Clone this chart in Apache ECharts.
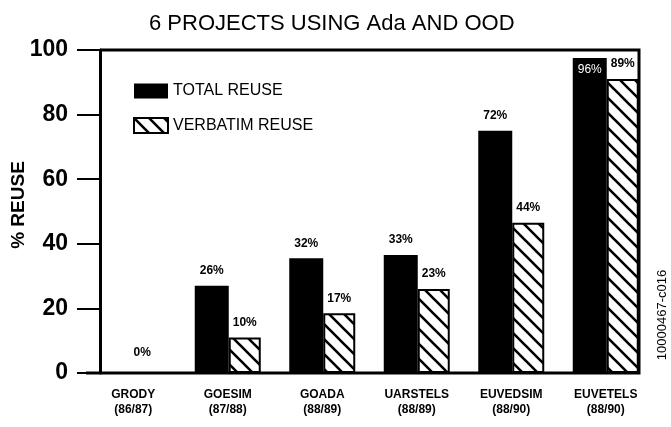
<!DOCTYPE html>
<html>
<head>
<meta charset="utf-8">
<script src="https://cdn.jsdelivr.net/npm/echarts@6/dist/echarts.min.js"></script>
<style>
  html, body { margin: 0; padding: 0; background: #fff; }
  #chart { width: 671px; height: 427px; }
</style>
</head>
<body>
<div id="chart"></div>
<script>
// projects (x axis)
var projects = ['GRODY\n(86/87)', 'GOESIM\n(87/88)', 'GOADA\n(88/89)', 'UARSTELS\n(88/89)', 'EUVEDSIM\n(88/90)', 'EUVETELS\n(88/90)'];
// bar heights as drawn in the picture
var totalReuse = [0, 27, 35.5, 36.5, 75, 97.5];
var verbatimReuse = [0, 11, 18.5, 26, 46.5, 91];
// printed labels
var totalLabels = ['0%', '26%', '32%', '33%', '72%', '96%'];
var verbatimLabels = ['', '10%', '17%', '23%', '44%', '89%'];
var yTicks = [0, 20, 40, 60, 80, 100];

var FONT = '"Liberation Sans", Arial, sans-serif';

// hatch pattern for verbatim bars
function makeHatch() {
    var s = 15;
    var c = document.createElement('canvas');
    c.width = s; c.height = s;
    var ctx = c.getContext('2d');
    ctx.fillStyle = '#fff';
    ctx.fillRect(0, 0, s, s);
    ctx.strokeStyle = '#000';
    ctx.lineWidth = 2.6;
    ctx.beginPath();
    ctx.moveTo(-2, -2); ctx.lineTo(s + 2, s + 2);
    ctx.moveTo(-2, s - 2); ctx.lineTo(2, s + 2);
    ctx.moveTo(s - 2, -2); ctx.lineTo(s + 2, 2);
    ctx.stroke();
    return c;
}
var hatch = makeHatch();

var chart = echarts.init(document.getElementById('chart'));

var totalData = totalReuse.map(function (v, i) {
    var d = { value: v };
    if (v === 0) d.label = { offset: [25, -5] };
    if (i === totalReuse.length - 1) d.label = { position: 'insideTop', color: '#fff', fontWeight: 'normal', offset: [0, -3] };
    return d;
});

var option = {
    animation: false,
    backgroundColor: '#fff',
    textStyle: { fontFamily: FONT, color: '#000' },
    title: {
        text: '6 PROJECTS USING Ada AND OOD',
        left: 144,
        top: 8,
        textStyle: { fontSize: 22, fontWeight: 'normal', color: '#000', fontFamily: FONT }
    },
    legend: {
        orient: 'vertical',
        left: 128,
        top: 78,
        itemWidth: 34,
        itemHeight: 15,
        itemGap: 18,
        textStyle: { fontSize: 16, color: '#000', fontFamily: FONT },
        data: [
            { name: 'TOTAL REUSE', icon: 'rect', itemStyle: { color: '#000', borderWidth: 0 } },
            { name: 'VERBATIM REUSE', icon: 'rect', itemStyle: { color: { image: hatch, repeat: 'repeat' }, borderColor: '#000', borderWidth: 2 } }
        ]
    },
    grid: { left: 86, right: 18, top: 50, bottom: 54, containLabel: false, outerBoundsMode: 'none' },
    xAxis: {
        type: 'category',
        data: projects,
        axisLine: { show: false },
        axisTick: { show: false },
        axisLabel: { color: '#000', fontSize: 12, fontWeight: 'bold', lineHeight: 15, margin: 14, fontFamily: FONT }
    },
    yAxis: {
        type: 'value',
        min: 0,
        max: 100,
        interval: 20,
        offset: -14,
        axisLine: { show: true, lineStyle: { color: '#000', width: 3 } },
        axisTick: { show: true, length: 23, lineStyle: { color: '#000', width: 2 } },
        splitLine: { show: false },
        axisLabel: {
            color: '#000', fontSize: 23, fontWeight: 'bold', margin: 32, fontFamily: FONT,
            formatter: function (v) { return yTicks.indexOf(v) >= 0 ? String(v) : ''; }
        }
    },
    series: [
        {
            name: 'TOTAL REUSE',
            type: 'bar',
            data: totalData,
            barWidth: 34,
            barGap: '0%',
            itemStyle: { color: '#000' },
            label: {
                show: true,
                position: 'top',
                distance: 9,
                color: '#000',
                fontSize: 12,
                fontWeight: 'bold',
                fontFamily: FONT,
                formatter: function (p) { return totalLabels[p.dataIndex]; }
            }
        },
        {
            name: 'VERBATIM REUSE',
            type: 'bar',
            data: verbatimReuse,
            barWidth: 32,
            itemStyle: { color: { image: hatch, repeat: 'repeat' }, borderColor: '#000', borderWidth: 2 },
            label: {
                show: true,
                position: 'top',
                distance: 9,
                color: '#000',
                fontSize: 12,
                fontWeight: 'bold',
                fontFamily: FONT,
                formatter: function (p) { return verbatimLabels[p.dataIndex]; }
            }
        }
    ],
    graphic: [
        // plot frame: top, right and bottom lines
        { type: 'polyline', shape: { points: [[100, 50], [639, 50], [639, 373], [86, 373]] }, style: { stroke: '#000', lineWidth: 3, fill: null }, z: 10 },
        // y axis title
        {
            type: 'text',
            x: 19, y: 205,
            rotation: Math.PI / 2,
            style: { text: '% REUSE', fill: '#000', font: 'bold 19px ' + FONT, textAlign: 'center', textVerticalAlign: 'middle' }
        },
        {
            type: 'text',
            x: 662, y: 315,
            rotation: Math.PI / 2,
            style: { text: '10000467-c016', fill: '#000', font: '13px ' + FONT, textAlign: 'center', textVerticalAlign: 'middle' }
        }
    ]
};

chart.setOption(option);
</script>
</body>
</html>
